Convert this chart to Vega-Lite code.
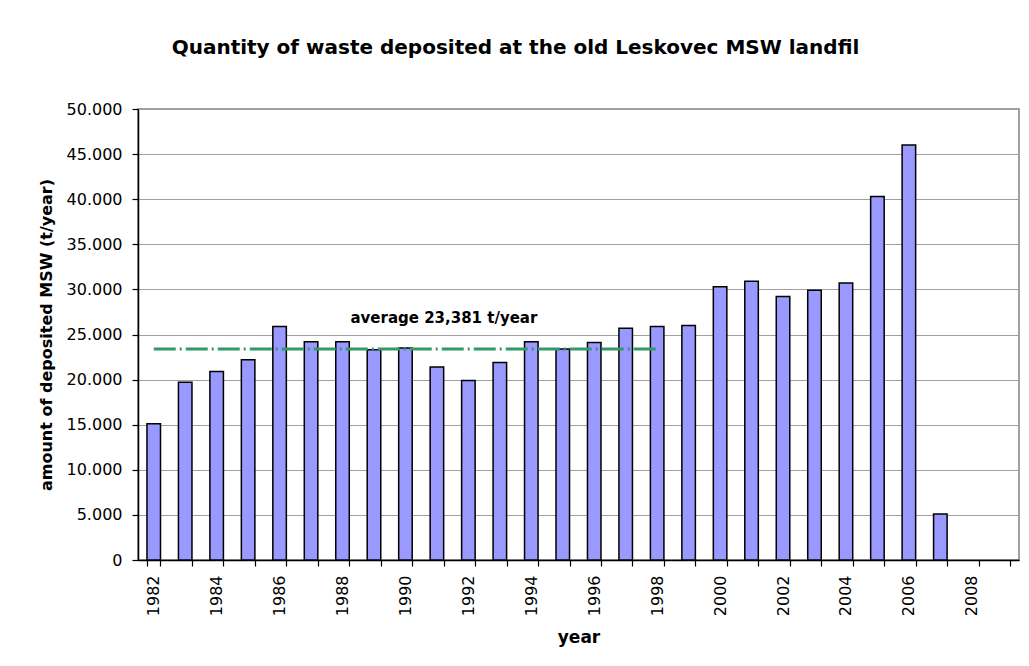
{
  "$schema": "https://vega.github.io/schema/vega-lite/v6.json",
  "width": 881,
  "height": 451,
  "autosize": "none",
  "padding": {"left": 138, "top": 109, "right": 10, "bottom": 106},
  "background": "white",
  "title": {
    "text": "Quantity of waste deposited at the old Leskovec MSW landfil",
    "font": "DejaVu Sans",
    "fontSize": 20,
    "fontWeight": "bold",
    "color": "black",
    "anchor": "middle",
    "frame": "group",
    "baseline": "alphabetic",
    "dx": -63,
    "offset": 27
  },
  "datasets": {
    "waste": [
      {"year": 1982, "amount": 15100},
      {"year": 1983, "amount": 19700},
      {"year": 1984, "amount": 20900},
      {"year": 1985, "amount": 22200},
      {"year": 1986, "amount": 25900},
      {"year": 1987, "amount": 24200},
      {"year": 1988, "amount": 24200},
      {"year": 1989, "amount": 23300},
      {"year": 1990, "amount": 23500},
      {"year": 1991, "amount": 21400},
      {"year": 1992, "amount": 19900},
      {"year": 1993, "amount": 21900},
      {"year": 1994, "amount": 24200},
      {"year": 1995, "amount": 23400},
      {"year": 1996, "amount": 24100},
      {"year": 1997, "amount": 25700},
      {"year": 1998, "amount": 25900},
      {"year": 1999, "amount": 26000},
      {"year": 2000, "amount": 30300},
      {"year": 2001, "amount": 30900},
      {"year": 2002, "amount": 29200},
      {"year": 2003, "amount": 29900},
      {"year": 2004, "amount": 30700},
      {"year": 2005, "amount": 40300},
      {"year": 2006, "amount": 46000},
      {"year": 2007, "amount": 5100}
    ],
    "average": [
      {"year": 1982, "amount": 23381},
      {"year": 1998, "amount": 23381}
    ],
    "label": [
      {"year": 1991, "amount": 23381, "text": "average 23,381 t/year"}
    ]
  },
  "config": {
    "view": {"stroke": "#808080", "strokeWidth": 1.5},
    "font": "DejaVu Sans",
    "axis": {
      "labelFont": "DejaVu Sans",
      "labelColor": "black",
      "labelFontSize": 16,
      "titleFont": "DejaVu Sans",
      "titleFontWeight": "bold",
      "titleColor": "black",
      "domainColor": "black",
      "domainWidth": 1.5,
      "tickColor": "black",
      "tickWidth": 1.2,
      "tickSize": 6
    }
  },
  "encoding": {
    "x": {
      "field": "year",
      "type": "ordinal",
      "scale": {
        "domain": [1982, 1983, 1984, 1985, 1986, 1987, 1988, 1989, 1990, 1991, 1992, 1993, 1994, 1995, 1996, 1997, 1998, 1999, 2000, 2001, 2002, 2003, 2004, 2005, 2006, 2007, 2008, 2009],
        "paddingInner": 0.57,
        "paddingOuter": 0.285
      },
      "axis": {
        "title": "year",
        "titleFontSize": 17,
        "titlePadding": 14,
        "labelAngle": -90,
        "labelPadding": 9,
        "labelExpr": "datum.value % 2 == 0 ? datum.label : ''",
        "tickBand": "extent",
        "grid": false
      }
    },
    "y": {
      "field": "amount",
      "type": "quantitative",
      "scale": {"domain": [0, 50000], "nice": false},
      "axis": {
        "title": "amount of deposited MSW (t/year)",
        "titleFontSize": 16,
        "titlePadding": 12,
        "values": [0, 5000, 10000, 15000, 20000, 25000, 30000, 35000, 40000, 45000, 50000],
        "labelExpr": "replace(format(datum.value, ','), ',', '.')",
        "labelPadding": 10,
        "grid": true,
        "gridColor": "#a0a0a0",
        "gridWidth": 1
      }
    }
  },
  "layer": [
    {
      "data": {"name": "waste"},
      "mark": {"type": "bar", "fill": "#9999ff", "stroke": "black", "strokeWidth": 1.5}
    },
    {
      "data": {"name": "average"},
      "mark": {"type": "line", "color": "#339966", "strokeWidth": 3, "strokeDash": [22, 4, 2, 4]}
    },
    {
      "data": {"name": "label"},
      "mark": {"type": "text", "font": "DejaVu Sans", "fontWeight": "bold", "fontSize": 15, "color": "black", "align": "center", "baseline": "middle", "dx": 7, "dy": -31},
      "encoding": {"text": {"field": "text"}}
    }
  ]
}
